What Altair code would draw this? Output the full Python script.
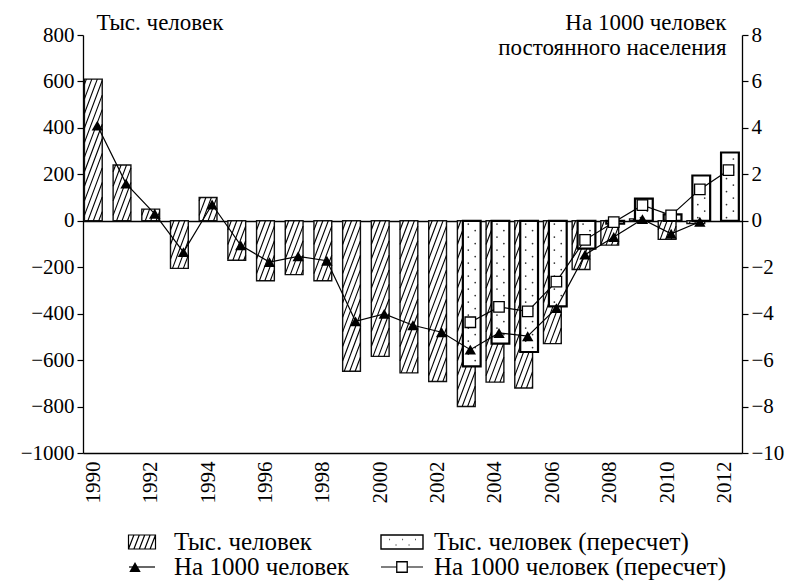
import altair as alt
import pandas as pd

# ---------------- data ----------------
years_a = list(range(1990, 2012))
thous_a = [610, 240, 50, -205, 100, -170, -258, -232, -258, -648, -584, -655,
           -692, -800, -695, -720, -529, -210, -105, 8, -80, -12]
rate_a = [4.1, 1.6, 0.3, -1.35, 0.7, -1.06, -1.78, -1.53, -1.72, -4.33, -4.01,
          -4.5, -4.8, -5.55, -4.83, -4.97, -3.76, -1.46, -0.70, 0.07, -0.56, -0.04]
years_b = list(range(2003, 2013))
thous_b = [-627, -529, -565, -369, -120, -12, 95, 28, 195, 294]
rate_b = [-4.37, -3.71, -3.9, -2.62, -0.82, -0.06, 0.67, 0.23, 1.35, 2.18]

x_ticks = list(range(1990, 2013, 2))
y_ticks_left = list(range(-1000, 801, 200))
y_ticks_right = list(range(-10, 9, 2))

legend_labels = ["Тыс. человек", "Тыс. человек (пересчет)",
                 "На 1000 человек", "На 1000 человек (пересчет)"]
legend_cols = [0, 1, 0, 1]
legend_rows = [0, 0, 1, 1]
legend_kinds = ["hatch", "dots", "tri", "sq"]

# ---------------- styles ----------------
FONT = "Times New Roman, Liberation Serif, serif"
W, H = 659, 418
HW = 0.31      # half bar width, years
OFF_B = 0.19   # shift of recalculated bars, years
OFF_L = 0.14   # shift of line markers, years
D = 0.19       # hatch spacing, years
S = 330.0      # hatch slope, thousand per year
R = 28.0       # dot spacing, thousand

df_a = pd.DataFrame({"year": years_a, "thous": thous_a, "rate": rate_a})
df_b = pd.DataFrame({"year": years_b, "thous": thous_b, "rate": rate_b})
df_leg = pd.DataFrame({"label": legend_labels, "col": legend_cols,
                       "row": legend_rows, "kind": legend_kinds})


def xs():
    return alt.Scale(domain=[1989.64, 2012.61], nice=False, zero=False)


def yl():
    return alt.Scale(domain=[-1000, 800], nice=False)


def yr():
    return alt.Scale(domain=[-10, 8], nice=False)


x_axis = alt.Axis(values=x_ticks, format="d", labelAngle=270, labelAlign="right",
                  labelBaseline="middle", ticks=False, labelPadding=8, title=None,
                  labelFont=FONT, labelFontSize=21, labelColor="black",
                  domainColor="black", domainWidth=1.3, grid=False,
                  labelFlush=False, labelOverlap=False)

y_axis_l = alt.Axis(orient="left", values=y_ticks_left, format="d", tickSize=6,
                    tickColor="black", tickWidth=1.2, labelFont=FONT,
                    labelFontSize=21,
                    labelColor="black", labelPadding=3, labelFlush=False,
                    labelOverlap=False, domainColor="black", domainWidth=1.3,
                    grid=True, gridWidth=1.3,
                    gridColor=alt.condition("datum.value === 0", alt.value("black"),
                                            alt.value("transparent")),
                    title="Тыс. человек", titleAngle=0, titleAlign="left",
                    titleBaseline="alphabetic", titleX=13, titleY=-6,
                    titleFont=FONT, titleFontSize=23, titleFontWeight="normal",
                    titleColor="black")

y_axis_r = alt.Axis(orient="right", values=y_ticks_right, format="d", tickSize=6,
                    tickColor="black", tickWidth=1.2, labelFont=FONT,
                    labelFontSize=21,
                    labelColor="black", labelPadding=3, labelFlush=False,
                    labelOverlap=False, domainColor="black", domainWidth=1.3, grid=False,
                    title=["На 1000 человек", "постоянного населения"], titleAngle=0,
                    titleAlign="right", titleBaseline="alphabetic", titleX=-16, titleY=-6,
                    titleLineHeight=25, titleFont=FONT, titleFontSize=23,
                    titleFontWeight="normal", titleColor="black")

# ---------------- bars ----------------
bars_a = alt.Chart(df_a).transform_calculate(
    xa=f"datum.year - {HW}", xb=f"datum.year + {HW}", base="0"
).mark_rect(fill="white", stroke="#111", strokeWidth=1.4).encode(
    x=alt.X("xa:Q", scale=xs(), axis=x_axis), x2="xb:Q",
    y=alt.Y("thous:Q", scale=yl(), axis=y_axis_l), y2="base:Q")

hatch = alt.Chart(df_a).transform_calculate(
    ylo="min(0, datum.thous)", yhi="max(0, datum.thous)"
).transform_calculate(
    k=f"sequence(floor((-{HW} - datum.yhi/{S})/{D}), ceil(({HW} - datum.ylo/{S})/{D}) + 1)"
).transform_flatten(["k"]).transform_calculate(
    c=f"datum.k*{D}"
).transform_calculate(
    y1=f"max({S}*(-{HW} - datum.c), datum.ylo)",
    y2=f"min({S}*({HW} - datum.c), datum.yhi)"
).transform_filter("datum.y2 > datum.y1").transform_calculate(
    x1=f"datum.year + datum.c + datum.y1/{S}",
    x2=f"datum.year + datum.c + datum.y2/{S}"
).mark_rule(color="black", strokeWidth=1.1).encode(
    x=alt.X("x1:Q", scale=xs(), axis=None), x2="x2:Q",
    y=alt.Y("y1:Q", scale=yl(), axis=None), y2="y2:Q")

bars_b = alt.Chart(df_b).transform_calculate(
    xa=f"datum.year + {OFF_B} - {HW}", xb=f"datum.year + {OFF_B} + {HW}", base="0"
).mark_rect(fill="white", stroke="black", strokeWidth=2.2).encode(
    x=alt.X("xa:Q", scale=xs(), axis=None), x2="xb:Q",
    y=alt.Y("thous:Q", scale=yl(), axis=None), y2="base:Q")

dots = alt.Chart(df_b).transform_calculate(
    k=f"sequence(0, floor(abs(datum.thous)/{R}))"
).transform_flatten(["k"]).transform_calculate(
    yd=f"(datum.thous < 0 ? -1 : 1) * (datum.k + 0.5) * {R}",
    xd=f"datum.year + {OFF_B} + (datum.k % 2 == 0 ? -0.12 : 0.12)"
).mark_circle(size=3, color="#333", opacity=1).encode(
    x=alt.X("xd:Q", scale=xs(), axis=None), y=alt.Y("yd:Q", scale=yl(), axis=None))

# ---------------- lines ----------------
la = alt.Chart(df_a).transform_calculate(xl=f"datum.year + {OFF_L}")
lb = alt.Chart(df_b).transform_calculate(xl=f"datum.year + {OFF_L}")

tri_line = la.mark_line(color="black", strokeWidth=1.2).encode(
    x=alt.X("xl:Q", scale=xs(), axis=None), y=alt.Y("rate:Q", scale=yr(), axis=y_axis_r))
sq_line = lb.mark_line(color="black", strokeWidth=1.2).encode(
    x=alt.X("xl:Q", scale=xs(), axis=None), y=alt.Y("rate:Q", scale=yr(), axis=None))
tri_pts = la.mark_point(shape="triangle-up", filled=True, color="black", size=130,
                        opacity=1).encode(
    x=alt.X("xl:Q", scale=xs(), axis=None), y=alt.Y("rate:Q", scale=yr(), axis=None))
sq_pts = lb.mark_point(shape="square", filled=True, fill="white", stroke="black",
                       strokeWidth=1.3, size=110, opacity=1).encode(
    x=alt.X("xl:Q", scale=xs(), axis=None), y=alt.Y("rate:Q", scale=yr(), axis=None))

# ---------------- legend ----------------
def lx():
    return alt.X("col:O", scale=alt.Scale(type="point", domain=[0, 1], range=[59, 319],
                                          padding=0), axis=None)


def ly():
    return alt.Y("row:O", scale=alt.Scale(type="point", domain=[0, 1], range=[507, 532],
                                          padding=0), axis=None)


HATCH_PATH = ("M-1,-0.52H1V0.52H-1Z "
              "M-1,0.52L-0.6,-0.52 M-0.6,0.52L-0.2,-0.52 M-0.2,0.52L0.2,-0.52 "
              "M0.2,0.52L0.6,-0.52 M0.6,0.52L1,-0.52")
DOT_PATH = ("M-1,-0.33H1V0.33H-1Z "
            "M-0.6,-0.12h0.03 M0.02,-0.12h0.03 M0.62,-0.12h0.03 "
            "M-0.3,0.14h0.03 M0.32,0.14h0.03")
LINE_PATH = "M-1,0H1"

leg = alt.Chart(df_leg)
sw_hatch = leg.transform_filter("datum.kind == 'hatch'").mark_point(
    shape=HATCH_PATH, size=729, filled=False, stroke="black", strokeWidth=1.2,
    opacity=1).encode(x=lx(), y=ly())
sw_dots = leg.transform_filter("datum.kind == 'dots'").mark_point(
    shape=DOT_PATH, size=1764, filled=False, stroke="black", strokeWidth=1.4,
    opacity=1).encode(x=lx(), y=ly())
sw_tri_line = leg.transform_filter("datum.kind == 'tri'").mark_point(
    shape=LINE_PATH, size=676, filled=False, stroke="black", strokeWidth=1.2,
    opacity=1).encode(x=lx(), y=ly())
sw_tri = leg.transform_filter("datum.kind == 'tri'").mark_point(
    shape="triangle-up", size=130, filled=True, color="black", opacity=1,
    xOffset=-7).encode(x=lx(), y=ly())
sw_sq_line = leg.transform_filter("datum.kind == 'sq'").mark_point(
    shape=LINE_PATH, size=1764, filled=False, stroke="black", strokeWidth=1.2,
    opacity=1).encode(x=lx(), y=ly())
sw_sq = leg.transform_filter("datum.kind == 'sq'").mark_point(
    shape="square", size=110, filled=True, fill="white", stroke="black",
    strokeWidth=1.3, opacity=1).encode(x=lx(), y=ly())
leg_text = leg.mark_text(align="left", baseline="middle", dx=32, font=FONT,
                         fontSize=25, color="black").encode(x=lx(), y=ly(), text="label:N")

chart = alt.layer(
    bars_a, hatch, bars_b, dots, tri_line, sq_line, tri_pts, sq_pts,
    sw_hatch, sw_dots, sw_tri_line, sw_tri, sw_sq_line, sw_sq, leg_text
).resolve_scale(x="independent", y="independent").properties(
    width=W, height=H, background="white",
    padding={"left": 12, "top": 3, "right": 5, "bottom": 2}
).configure_view(stroke=None)

chart.save("out.html", embed_options={"renderer": "svg", "actions": False})
